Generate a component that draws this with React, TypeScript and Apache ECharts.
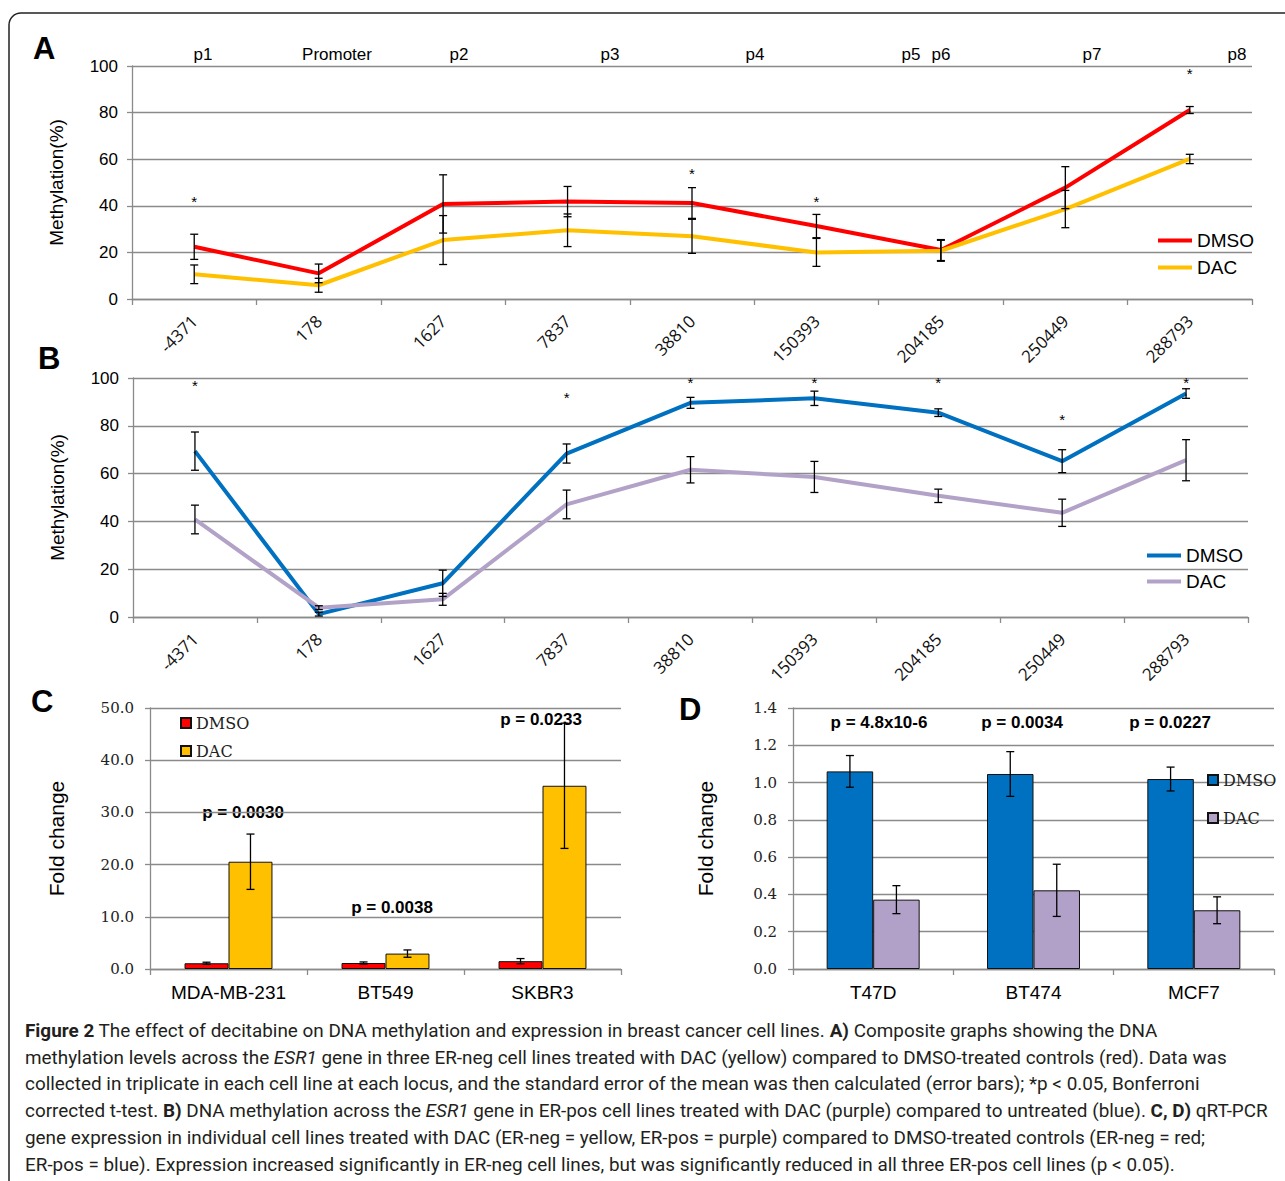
import React, { useEffect, useRef } from 'react';
import * as echarts from 'echarts';

// ---------- Data ----------
const positions = ['-4371', '178', '1627', '7837', '38810', '150393', '204185', '250449', '288793'];
const regionLabels = ['p1', 'Promoter', 'p2', 'p3', 'p4', 'p5', 'p6', 'p7', 'p8'];

const aDmso = [22.4, 11, 40.8, 41.8, 41.2, 31.3, 21, 47.8, 81.1];
const aDmsoErr = [5.4, 4, 12.5, 6.5, 6.6, 5, 4.5, 9, 1.5];
const aDac = [10.6, 5.9, 25.3, 29.5, 26.9, 20, 20.7, 38.6, 60.1];
const aDacErr = [4, 3, 10.5, 7, 7.3, 6, 4.5, 8, 2];
const aStars = [43, null, null, null, 55, 43, null, null, 98];

const bDmso = [69.4, 1.2, 14.1, 68.4, 89.6, 91.5, 85.5, 65.2, 93.5];
const bDmsoErr = [8, 0.8, 5.5, 4, 2.3, 3, 1.6, 4.8, 2];
const bDac = [40.8, 3.9, 7.4, 47.1, 61.6, 58.6, 50.7, 43.6, 65.6];
const bDacErr = [6, 0.8, 2.5, 6, 5.5, 6.5, 2.8, 5.7, 8.6];
const bStars = [98, null, null, 93, 99.5, 99.5, 99.5, 83.7, 99.5];

const cCells = ['MDA-MB-231', 'BT549', 'SKBR3'];
const cDmso = [1.1, 1.15, 1.5];
const cDmsoErr = [0.2, 0.2, 0.5];
const cDac = [20.55, 2.95, 35.1];
const cDacErr = [5.3, 0.7, 12];
const cPvals = ['p = 0.0030', 'p = 0.0038', 'p = 0.0233'];

const dCells = ['T47D', 'BT474', 'MCF7'];
const dDmso = [1.06, 1.046, 1.019];
const dDmsoErr = [0.085, 0.12, 0.064];
const dDac = [0.372, 0.422, 0.315];
const dDacErr = [0.075, 0.14, 0.072];
const dPvals = ['p = 4.8x10-6', 'p = 0.0034', 'p = 0.0227'];

const caption = [
  '{b|Figure 2} The effect of decitabine on DNA methylation and expression in breast cancer cell lines. {b|A)} Composite graphs showing the DNA',
  'methylation levels across the {i|ESR1} gene in three ER-neg cell lines treated with DAC (yellow) compared to DMSO-treated controls (red). Data was',
  'collected in triplicate in each cell line at each locus, and the standard error of the mean was then calculated (error bars); *p < 0.05, Bonferroni',
  'corrected t-test. {b|B)} DNA methylation across the {i|ESR1} gene in ER-pos cell lines treated with DAC (purple) compared to untreated (blue). {b|C, D)} qRT-PCR',
  'gene expression in individual cell lines treated with DAC (ER-neg = yellow, ER-pos = purple) compared to DMSO-treated controls (ER-neg = red;',
  'ER-pos = blue). Expression increased significantly in ER-neg cell lines, but was significantly reduced in all three ER-pos cell lines (p < 0.05).',
];

// ---------- Styling helpers ----------
const GRID_GRAY = '#8a8a8a';
const SANS = 'Liberation Sans';
const SERIF = 'DejaVu Serif';
const CAP_FONT = 18.9;

function errSeries(xi: number, yi: number, means: number[], errs: number[], offsetFrac: number) {
  return {
    type: 'custom',
    xAxisIndex: xi,
    yAxisIndex: yi,
    silent: true,
    z: 10,
    data: means.map((m, i) => [i, m - errs[i], m + errs[i]]),
    renderItem: (params: any, api: any) => {
      const i = api.value(0);
      const lo = api.coord([i, api.value(1)]);
      const hi = api.coord([i, api.value(2)]);
      const bw = api.size([1, 0])[0];
      const x = lo[0] + offsetFrac * bw;
      const c = 4;
      const st = { stroke: '#000', lineWidth: 1.3 };
      return {
        type: 'group',
        children: [
          { type: 'line', shape: { x1: x, y1: hi[1], x2: x, y2: lo[1] }, style: st },
          { type: 'line', shape: { x1: x - c, y1: hi[1], x2: x + c, y2: hi[1] }, style: st },
          { type: 'line', shape: { x1: x - c, y1: lo[1], x2: x + c, y2: lo[1] }, style: st },
        ],
      };
    },
  };
}

function starSeries(xi: number, yi: number, stars: (number | null)[]) {
  return {
    type: 'custom',
    xAxisIndex: xi,
    yAxisIndex: yi,
    silent: true,
    z: 11,
    data: stars.map((s, i) => [i, s]).filter((d) => d[1] != null),
    renderItem: (params: any, api: any) => {
      const p = api.coord([api.value(0), api.value(1)]);
      return {
        type: 'text',
        x: p[0],
        y: p[1] + 3,
        style: { text: '*', fontSize: 15, fontFamily: SANS, fill: '#000', align: 'center', verticalAlign: 'middle' },
      };
    },
  };
}

function lineXAxis(gi: number) {
  return {
    type: 'category',
    gridIndex: gi,
    data: positions,
    boundaryGap: true,
    axisLine: { show: true, lineStyle: { color: GRID_GRAY, width: 1.3 } },
    axisTick: { show: true, length: 6, interval: 0, lineStyle: { color: GRID_GRAY, width: 1.3 } },
    axisLabel: { interval: 0, rotate: 45, fontFamily: 'Open Sans', fontSize: 17, color: '#111', margin: 19 },
  };
}

function lineYAxis(gi: number) {
  return {
    type: 'value',
    gridIndex: gi,
    min: 0,
    max: 100,
    interval: 20,
    axisLine: { show: true, lineStyle: { color: GRID_GRAY, width: 1.3 } },
    axisTick: { show: true, length: 5, lineStyle: { color: GRID_GRAY, width: 1.3 } },
    splitLine: { show: true, lineStyle: { color: GRID_GRAY, width: 1.3 } },
    axisLabel: { fontFamily: SANS, fontSize: 17, color: '#000', margin: 14 },
    name: 'Methylation(%)',
    nameLocation: 'middle',
    nameGap: 66,
    nameTextStyle: { fontFamily: SANS, fontSize: 19, color: '#000' },
  };
}

function barXAxis(gi: number, cats: string[]) {
  return {
    type: 'category',
    gridIndex: gi,
    data: cats,
    axisLine: { show: true, lineStyle: { color: GRID_GRAY, width: 1.3 } },
    axisTick: { show: true, length: 6, lineStyle: { color: GRID_GRAY, width: 1.3 } },
    axisLabel: { fontFamily: SANS, fontSize: 19, color: '#000', margin: 14 },
  };
}

function barYAxis(gi: number, max: number, interval: number, nameGap: number) {
  return {
    type: 'value',
    gridIndex: gi,
    min: 0,
    max,
    interval,
    axisLine: { show: true, lineStyle: { color: GRID_GRAY, width: 1.3 } },
    axisTick: { show: true, length: 5, lineStyle: { color: GRID_GRAY, width: 1.3 } },
    splitLine: { show: true, lineStyle: { color: GRID_GRAY, width: 1.3 } },
    axisLabel: { fontFamily: SERIF, fontSize: 15, color: '#222', margin: 16, formatter: (v: number) => v.toFixed(1) },
    name: 'Fold change',
    nameLocation: 'middle',
    nameGap,
    nameTextStyle: { fontFamily: SANS, fontSize: 21, color: '#000' },
  };
}

const shortName = (n: string) => n.split(' ')[0];

function buildOption() {
  const topLabelX = [203, 337, 459, 610, 755, 911, 941, 1092, 1237];
  const cPX = [243, 392, 541];
  const cPY = [812, 907, 719];
  const dPX = [879, 1022, 1170];
  const captionY = [1030, 1057, 1083, 1110, 1137, 1164];

  const letter = (t: string, x: number, y: number) => ({
    type: 'text',
    x,
    y,
    style: { text: t, fontFamily: SANS, fontWeight: 'bold', fontSize: 31, fill: '#000', align: 'left', verticalAlign: 'middle' },
  });

  const graphic: any[] = [
    {
      type: 'rect',
      shape: { x: 9, y: 13, width: 1320, height: 1220, r: 12 },
      style: { fill: 'none', stroke: '#222', lineWidth: 1.5 },
      silent: true,
    },
    letter('A', 33, 48),
    letter('B', 38, 358),
    letter('C', 31, 701),
    letter('D', 679, 709),
    ...regionLabels.map((t, i) => ({
      type: 'text',
      x: topLabelX[i],
      y: 54,
      style: { text: t, fontFamily: SANS, fontSize: 17, fill: '#000', align: 'center', verticalAlign: 'middle' },
    })),
    ...cPvals.map((t, i) => ({
      type: 'text',
      x: cPX[i],
      y: cPY[i],
      style: { text: t, fontFamily: SANS, fontWeight: 'bold', fontSize: 17, fill: '#000', align: 'center', verticalAlign: 'middle' },
    })),
    ...dPvals.map((t, i) => ({
      type: 'text',
      x: dPX[i],
      y: 722,
      style: { text: t, fontFamily: SANS, fontWeight: 'bold', fontSize: 17, fill: '#000', align: 'center', verticalAlign: 'middle' },
    })),
    ...caption.map((t, i) => ({
      type: 'text',
      x: 25,
      y: captionY[i],
      style: {
        text: t,
        fontFamily: 'Roboto',
        fontSize: CAP_FONT,
        fill: '#231f20',
        align: 'left',
        verticalAlign: 'middle',
        rich: {
          b: { fontFamily: 'Roboto', fontSize: CAP_FONT, fontWeight: 'bold', fill: '#231f20' },
          i: { fontFamily: 'Roboto', fontSize: CAP_FONT, fontStyle: 'italic', fill: '#231f20' },
        },
      },
    })),
  ];

  const lineLegend = (names: string[], left: number, top: number, gap: number) => ({
    data: names.map((n) => ({ name: n, icon: 'rect' })),
    left,
    top,
    orient: 'vertical',
    padding: 0,
    itemWidth: 34,
    itemHeight: 4,
    itemGap: gap,
    selectedMode: false,
    formatter: shortName,
    textStyle: { fontFamily: SANS, fontSize: 19, color: '#000' },
  });

  const barLegend = (names: string[], left: number, top: number, gap: number) => ({
    data: names.map((n) => ({ name: n, icon: 'rect' })),
    left,
    top,
    orient: 'vertical',
    padding: 0,
    itemWidth: 10,
    itemHeight: 10,
    itemGap: gap,
    selectedMode: false,
    formatter: shortName,
    textStyle: { fontFamily: SERIF, fontSize: 16, color: '#222' },
  });

  const line = (name: string, xi: number, data: number[], color: string) => ({
    name,
    type: 'line',
    xAxisIndex: xi,
    yAxisIndex: xi,
    data,
    symbol: 'none',
    showSymbol: false,
    lineStyle: { color, width: 4 },
    itemStyle: { color },
    z: 3,
  });

  const bar = (name: string, xi: number, data: number[], color: string, width: string) => ({
    name,
    type: 'bar',
    xAxisIndex: xi,
    yAxisIndex: xi,
    data,
    barWidth: width,
    barGap: '0%',
    itemStyle: { color, borderColor: '#111', borderWidth: 1 },
    z: 3,
  });

  return {
    animation: false,
    backgroundColor: '#fff',
    grid: [
      { left: 132, top: 66, width: 1120, height: 233 },
      { left: 133, top: 378, width: 1115, height: 239 },
      { left: 150, top: 708, width: 471, height: 261 },
      { left: 793, top: 708, width: 481, height: 261 },
    ],
    xAxis: [lineXAxis(0), lineXAxis(1), barXAxis(2, cCells), barXAxis(3, dCells)],
    yAxis: [lineYAxis(0), lineYAxis(1), barYAxis(2, 50, 10, 83), barYAxis(3, 1.4, 0.2, 77)],
    legend: [
      lineLegend(['DMSO A', 'DAC A'], 1158, 231, 8),
      lineLegend(['DMSO B', 'DAC B'], 1147, 546, 7),
      barLegend(['DMSO C', 'DAC C'], 180, 715, 12),
      barLegend(['DMSO D', 'DAC D'], 1207, 772, 22),
    ],
    series: [
      line('DMSO A', 0, aDmso, '#ff0000'),
      line('DAC A', 0, aDac, '#ffc000'),
      errSeries(0, 0, aDmso, aDmsoErr, 0),
      errSeries(0, 0, aDac, aDacErr, 0),
      starSeries(0, 0, aStars),
      line('DMSO B', 1, bDmso, '#0070c0'),
      line('DAC B', 1, bDac, '#b3a2c7'),
      errSeries(1, 1, bDmso, bDmsoErr, 0),
      errSeries(1, 1, bDac, bDacErr, 0),
      starSeries(1, 1, bStars),
      bar('DMSO C', 2, cDmso, '#ff0000', '28%'),
      bar('DAC C', 2, cDac, '#ffc000', '28%'),
      errSeries(2, 2, cDmso, cDmsoErr, -0.14),
      errSeries(2, 2, cDac, cDacErr, 0.14),
      bar('DMSO D', 3, dDmso, '#0070c0', '29%'),
      bar('DAC D', 3, dDac, '#b1a0c7', '29%'),
      errSeries(3, 3, dDmso, dDmsoErr, -0.145),
      errSeries(3, 3, dDac, dDacErr, 0.145),
    ],
    graphic,
  };
}

export default function App() {
  const ref = useRef<HTMLDivElement>(null);
  useEffect(() => {
    if (!ref.current) return;
    const chart = echarts.init(ref.current, null, { renderer: 'svg' });
    chart.setOption(buildOption() as any);
    return () => chart.dispose();
  }, []);
  return (
    <div
      ref={ref}
      style={{ position: 'fixed', left: 0, top: 0, width: 1285, height: 1181, background: '#fff' }}
    />
  );
}
